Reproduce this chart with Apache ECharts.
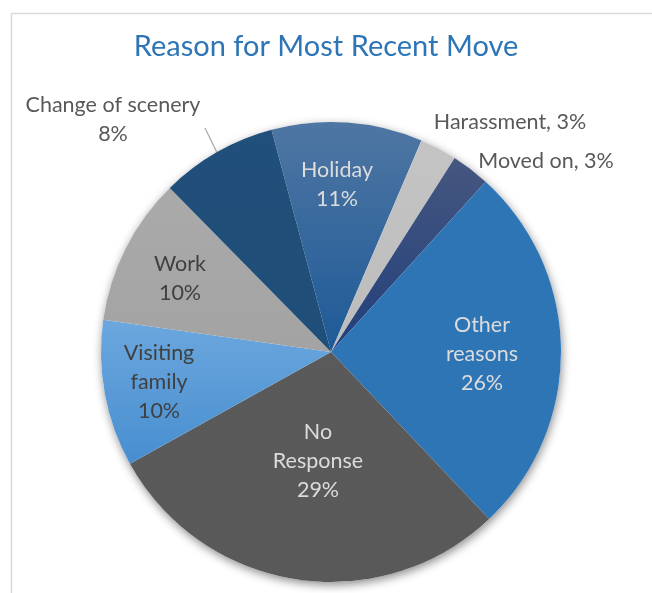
<!DOCTYPE html>
<html>
<head>
<meta charset="utf-8">
<script src="https://cdn.jsdelivr.net/npm/echarts@6/dist/echarts.min.js"></script>
<style>
html,body{margin:0;padding:0;background:#fff;}
#chart{width:652px;height:593px;}
</style>
</head>
<body>
<div id="chart"></div>
<script>
// ---- data ----
const categories = ["Holiday", "Harassment", "Moved on", "Other reasons", "No Response", "Visiting family", "Work", "Change of scenery"];
const shares = [10.6, 2.6, 2.7, 26.2, 29.0, 10.3, 10.4, 8.2];
const titleText = "Reason for Most Recent Move";

// ---- styling (kept separate from data) ----
const FONT = "Lato";
const sliceColors = {
  "Holiday": ["#4f76a3", "#1d5a97"],
  "Harassment": ["#c4c4c4", "#bcbcbc"],
  "Moved on": ["#46577f", "#213f7c"],
  "Other reasons": ["#2e75b6", "#2e75b6"],
  "No Response": ["#5a5a5a", "#595959"],
  "Visiting family": ["#6ca7de", "#478ecf"],
  "Work": ["#aaaaaa", "#a3a3a3"],
  "Change of scenery": ["#214f7b", "#1f4e78"]
};
const labelColor = {
  "Holiday": "#dcdcdc", "Other reasons": "#dcdcdc", "No Response": "#dcdcdc",
  "Visiting family": "#404040", "Work": "#404040",
  "Harassment": "#595959", "Moved on": "#595959", "Change of scenery": "#595959"
};
const labelFormat = {
  "Holiday": "multi", "Other reasons": "multi", "No Response": "multi",
  "Visiting family": "multi", "Work": "multi", "Change of scenery": "multi",
  "Harassment": "inline", "Moved on": "inline"
};
// label anchor positions (center of label block), in px
const labelPos = {
  "Holiday": [337, 185],
  "Harassment": [510, 122],
  "Moved on": [546, 161],
  "Other reasons": [482, 354],
  "No Response": [318, 461],
  "Visiting family": [159, 382],
  "Work": [180, 279],
  "Change of scenery": [113, 120]
};
const wrapNames = {"Other reasons": "Other\nreasons", "No Response": "No\nResponse", "Visiting family": "Visiting\nfamily"};

const CX = 331, CY = 352, R = 230;

const pieData = categories.map((name, i) => {
  const c = sliceColors[name];
  const outside = name === "Harassment" || name === "Moved on" || name === "Change of scenery";
  return {
    name: name,
    value: shares[i],
    itemStyle: {
      color: {
        type: "linear", x: 0, y: 0, x2: 0, y2: 1,
        colorStops: [{offset: 0, color: c[0]}, {offset: 1, color: c[1]}]
      }
    },
    label: {
      position: outside ? "outside" : "inside",
      color: labelColor[name]
    },
    labelLine: {show: name === "Change of scenery", length: 10, length2: 0, lineStyle: {color: "#a6a6a6", width: 1.2}}
  };
});

const chart = echarts.init(document.getElementById("chart"), null, {renderer: "canvas"});
chart.setOption({
  animation: false,
  backgroundColor: "#ffffff",
  title: {
    text: titleText,
    left: "center",
    top: 27,
    textStyle: {fontFamily: FONT, fontSize: 29, fontWeight: "normal", color: "#2e75b6"}
  },
  graphic: [{
    type: "rect",
    shape: {x: 11.5, y: 13.5, width: 800, height: 800},
    style: {fill: "none", stroke: "#d9d9d9", lineWidth: 1.5},
    silent: true, z: -10
  }],
  series: [
    {
      type: "pie",
      silent: true,
      center: [CX, CY],
      radius: R,
      z: 1,
      label: {show: false},
      labelLine: {show: false},
      itemStyle: {color: "#ffffff", shadowBlur: 10, shadowColor: "rgba(0,0,0,0.45)", shadowOffsetX: 1, shadowOffsetY: 3},
      data: [{value: 1, name: "_shadow"}]
    },
    {
      type: "pie",
      center: [CX, CY],
      radius: R,
      startAngle: 105,
      clockwise: true,
      z: 2,
      avoidLabelOverlap: false,
      itemStyle: {borderWidth: 0},
      label: {
        show: true,
        fontFamily: FONT,
        fontSize: 21.5,
        lineHeight: 29,
        formatter: function (p) {
          const pct = Math.round(p.percent) + "%";
          if (labelFormat[p.name] === "inline") return p.name + ", " + pct;
          return (wrapNames[p.name] || p.name) + "\n" + pct;
        }
      },
      labelLayout: function (params) {
        const name = categories[params.dataIndex];
        const pos = labelPos[name];
        const out = {x: pos[0], y: pos[1], align: "center", verticalAlign: "middle"};
        if (name === "Change of scenery" && params.labelLinePoints) {
          const a = params.labelLinePoints[0];
          out.labelLinePoints = [a, [pos[0] + 92, pos[1] + 8]];
        }
        return out;
      },
      data: pieData
    }
  ]
});
</script>
</body>
</html>
